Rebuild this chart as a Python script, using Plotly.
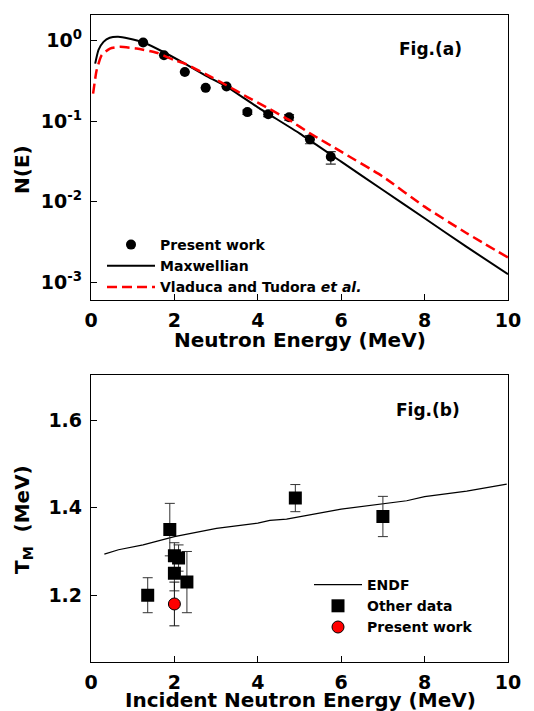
import plotly.graph_objects as go

# ---------------- Data: Fig.(a) ----------------
pw_E = [1.25, 1.75, 2.25, 2.75, 3.25, 3.75, 4.25, 4.75, 5.25, 5.75]
pw_N = [0.95, 0.66, 0.41, 0.26, 0.27, 0.13, 0.122, 0.112, 0.0596, 0.0363]
pw_err_up = [0.0, 0.0, 0.0, 0.0, 0.0, 0.008, 0.008, 0.009, 0.007, 0.0056]
pw_err_dn = [0.0, 0.0, 0.0, 0.0, 0.0, 0.008, 0.008, 0.009, 0.007, 0.0069]

maxw_E = [0.1, 0.18, 0.3, 0.45, 0.65, 0.9, 1.25, 1.75, 2.25, 2.75, 3.25, 4.0, 5.0, 6.0, 7.0, 8.0, 9.0, 10.0]
maxw_N = [0.52, 0.77, 0.97, 1.09, 1.12, 1.07, 0.96, 0.72, 0.52, 0.37, 0.27, 0.149, 0.0708, 0.0315, 0.0140, 0.00624, 0.00277, 0.00126]

vt_E = [0.05, 0.135, 0.255, 0.455, 0.695, 1.095, 1.575, 2.0, 2.25, 2.75, 3.25, 3.75, 4.25, 4.75, 5.25, 6.0, 7.0, 8.0, 9.0, 10.0]
vt_N = [0.22, 0.43, 0.66, 0.80, 0.84, 0.80, 0.71, 0.575, 0.52, 0.386, 0.28, 0.20, 0.145, 0.104, 0.071, 0.0419, 0.0205, 0.0087, 0.0041, 0.00203]

# ---------------- Data: Fig.(b) ----------------
endf_E = [0.32, 0.66, 1.25, 2.0, 3.01, 4.0, 4.29, 4.69, 6.0, 7.0, 7.57, 8.0, 9.01, 9.97]
endf_T = [1.294, 1.304, 1.315, 1.334, 1.353, 1.365, 1.371, 1.374, 1.397, 1.409, 1.416, 1.4255, 1.438, 1.454]

other_E = [1.36, 1.89, 2.0, 2.1, 2.0, 2.3, 4.9, 7.0]
other_T = [1.20, 1.35, 1.29, 1.285, 1.25, 1.23, 1.422, 1.38]
other_up = [0.04, 0.06, 0.03, 0.03, 0.04, 0.07, 0.031, 0.046]
other_dn = [0.04, 0.06, 0.03, 0.03, 0.04, 0.07, 0.031, 0.046]

pres_E = [2.0]
pres_T = [1.18]
pres_err = [0.05]

xticks = [0, 2, 4, 6, 8, 10]
logticks = [1, 0.1, 0.01, 0.001]
logticktext = ["10<sup>0</sup>", "10<sup>-1</sup>", "10<sup>-2</sup>", "10<sup>-3</sup>"]
tm_ticks = [1.2, 1.4, 1.6]
tm_ticktext = ["1.2", "1.4", "1.6"]

FONT = "DejaVu Sans, Verdana, sans-serif"

# page is rendered with an 8px body margin: map page pixels to paper coordinates
W, H = 534, 711
OFF = 8
FW, FH = W - OFF, H - OFF


def px(x):
    return (x - OFF) / FW


def py(y):
    return 1 - (y - OFF) / FH


fig = go.Figure()

fig.add_trace(go.Scatter(
    x=pw_E, y=pw_N, mode="markers", name="Present work",
    marker=dict(symbol="circle", size=10, color="black"),
    error_y=dict(type="data", array=pw_err_up, arrayminus=pw_err_dn,
                 color="#333333", thickness=1.2, width=5),
    xaxis="x", yaxis="y", legend="legend"))
fig.add_trace(go.Scatter(
    x=maxw_E, y=maxw_N, mode="lines", name="Maxwellian",
    line=dict(color="black", width=2, shape="spline", smoothing=0.5),
    xaxis="x", yaxis="y", legend="legend"))
fig.add_trace(go.Scatter(
    x=vt_E, y=vt_N, mode="lines", name="Vladuca and Tudora <i>et al.</i>",
    line=dict(color="#ff0000", width=2.5, dash="10px,5px", shape="spline", smoothing=0.5),
    xaxis="x", yaxis="y", legend="legend"))

fig.add_trace(go.Scatter(
    x=endf_E, y=endf_T, mode="lines", name="ENDF",
    line=dict(color="black", width=1.2),
    xaxis="x2", yaxis="y2", legend="legend2"))
fig.add_trace(go.Scatter(
    x=other_E, y=other_T, mode="markers", name="Other data",
    marker=dict(symbol="square", size=13, color="black"),
    error_y=dict(type="data", array=other_up, arrayminus=other_dn,
                 color="#333333", thickness=1, width=5),
    xaxis="x2", yaxis="y2", legend="legend2"))
fig.add_trace(go.Scatter(
    x=pres_E, y=pres_T, mode="markers", name="Present work",
    marker=dict(symbol="circle", size=12, color="#ff0000", line=dict(color="black", width=1)),
    error_y=dict(type="data", array=pres_err, color="#111111", thickness=1, width=5),
    xaxis="x2", yaxis="y2", legend="legend2"))

xdom = [px(91), px(508)]
ydom1 = [py(300), py(15)]
ydom2 = [py(661.7), py(375)]

tickfont = dict(family=FONT, size=19, color="black", weight="bold")
common = dict(showline=True, linecolor="black", linewidth=1.3, mirror=True,
              ticks="inside", ticklen=6, tickcolor="black", tickwidth=1,
              showgrid=False, zeroline=False, tickfont=tickfont, automargin=False)

legfont = dict(family=FONT, size=14, color="black", weight="bold")

fig.update_layout(
    width=FW, height=FH,
    margin=dict(l=0, r=0, t=0, b=0, autoexpand=False),
    paper_bgcolor="white", plot_bgcolor="white",
    font=dict(family=FONT, color="black"),
    xaxis=dict(domain=xdom, anchor="y", range=[0, 10], tickvals=xticks,
               ticklabelstandoff=3, **common),
    yaxis=dict(domain=ydom1, anchor="x", type="log", range=[-3.22, 0.32],
               tickvals=logticks, ticktext=logticktext, ticklabelstandoff=4, **common),
    xaxis2=dict(domain=xdom, anchor="y2", range=[0, 10], tickvals=xticks,
                ticklabelstandoff=3, **common),
    yaxis2=dict(domain=ydom2, anchor="x2", range=[1.048, 1.7035],
                tickvals=tm_ticks, ticktext=tm_ticktext, ticklabelstandoff=4, **common),
    legend=dict(x=px(102), y=py(229), xanchor="left", yanchor="top",
                bgcolor="rgba(0,0,0,0)", borderwidth=0, tracegroupgap=0,
                font=legfont, itemwidth=48),
    legend2=dict(x=px(309), y=py(569), xanchor="left", yanchor="top",
                 bgcolor="rgba(0,0,0,0)", borderwidth=0,
                 font=legfont, itemwidth=48),
    showlegend=True,
)

ann_font = dict(family=FONT, color="black", weight="bold")
annotations = [
    dict(text="Fig.(a)", x=px(430), y=py(49), xref="paper", yref="paper",
         xanchor="center", yanchor="middle",
         showarrow=False, font=dict(size=17, **ann_font)),
    dict(text="Fig.(b)", x=px(428), y=py(410), xref="paper", yref="paper",
         xanchor="center", yanchor="middle",
         showarrow=False, font=dict(size=17, **ann_font)),
    dict(text="Neutron Energy (MeV)", x=px(300), y=py(340), xref="paper", yref="paper",
         xanchor="center", yanchor="middle",
         showarrow=False, font=dict(size=20, **ann_font)),
    dict(text="Incident Neutron Energy (MeV)", x=px(300), y=py(700), xref="paper", yref="paper",
         xanchor="center", yanchor="middle",
         showarrow=False, font=dict(size=20, **ann_font)),
    dict(text="N(E)", x=px(22), y=py(170), xref="paper", yref="paper",
         xanchor="center", yanchor="middle",
         showarrow=False, textangle=-90, font=dict(size=20, **ann_font)),
    dict(text="T<sub>M</sub>  (MeV)", x=px(23), y=py(520), xref="paper", yref="paper",
         xanchor="center", yanchor="middle",
         showarrow=False, textangle=-90, font=dict(size=20, **ann_font)),
]
fig.update_layout(annotations=annotations)

fig.write_html("out.html")
